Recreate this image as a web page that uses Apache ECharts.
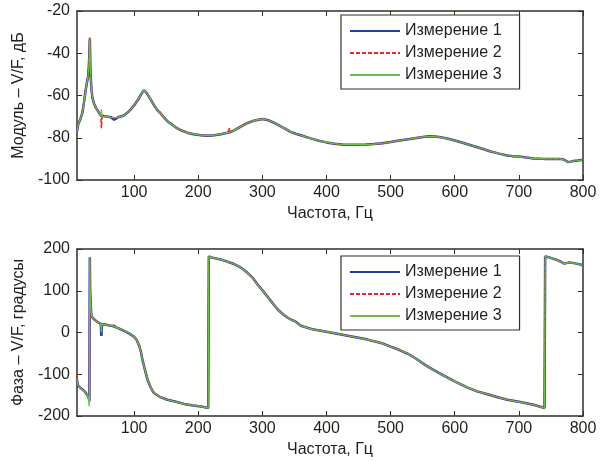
<!DOCTYPE html>
<html><head><meta charset="utf-8">
<script src="https://cdn.jsdelivr.net/npm/echarts@6/dist/echarts.min.js"></script>
<style>html,body{margin:0;padding:0;background:#fff}#c{width:609px;height:461px}</style>
</head><body><div id="c"></div>
<script>
const seriesNames = ['Измерение 1', 'Измерение 2', 'Измерение 3'];
const xTicks = [100, 200, 300, 400, 500, 600, 700, 800];
const magTicks = [-100, -80, -60, -40, -20];
const phTicks = [-200, -100, 0, 100, 200];

const freqMag = [11, 13, 16, 19.5, 22, 24.7, 27, 28.3, 29.5, 30.5, 31, 31.5, 32, 33.5, 35, 37.7, 40, 43, 46, 48, 49, 50, 53, 58.5, 64, 69, 75, 84, 92, 100, 105, 110, 113, 115.6, 118, 120, 125, 131, 136, 141.5, 147, 152, 160, 167.5, 175, 183, 193, 204, 215, 225, 235, 245.7, 249, 250.5, 256, 265, 277, 288, 300, 308, 318, 328, 336, 344, 352, 360, 375, 390, 400, 413, 427, 440, 450, 462, 474, 487, 500, 514, 527, 540, 553, 561, 569, 578, 590, 600, 615, 630, 643, 656, 669, 682, 690, 700, 712, 723, 740, 764, 770, 777, 781, 785, 792, 800];
const mag1 = [-77, -73.5, -71.5, -68, -63, -57, -53, -51, -46, -38, -33, -40, -49, -57, -61, -64, -65.5, -67, -68.5, -69.5, -70, -70, -69.8, -70, -70.3, -71.5, -70.3, -69.5, -67.5, -64.7, -62.5, -60, -58.5, -57.5, -58, -59, -61.5, -64.6, -66.8, -68.5, -70.5, -72.2, -74, -75.6, -76.7, -77.6, -78.3, -78.8, -79, -78.8, -78.3, -77.6, -77.4, -77.3, -76.5, -75, -73, -71.8, -71.1, -71.6, -72.8, -74.5, -75.8, -77.2, -78.1, -78.8, -80.3, -81.5, -82.2, -82.8, -83.3, -83.3, -83.3, -83.2, -83, -82.6, -82, -81.3, -80.7, -80.1, -79.5, -79.3, -79.4, -79.8, -80.5, -81.3, -82.6, -84, -85.2, -86.5, -87.5, -88.4, -88.7, -88.9, -89.4, -89.8, -90, -90, -90.3, -91.5, -91.3, -91, -90.8, -90.4];
const mag2 = [-77.5, -73, -71.5, -68, -63, -57, -53, -51, -46, -38, -32.5, -40, -49, -57, -61, -64, -65.5, -67, -68.5, -69.5, -75.5, -70, -69.8, -70, -70.3, -70.5, -70.3, -69.5, -67.5, -64.7, -62.5, -60, -58.5, -57.5, -58, -59, -61.5, -64.6, -66.8, -68.5, -70.5, -72.2, -74, -75.6, -76.7, -77.6, -78.3, -78.8, -79, -78.8, -78.3, -77.6, -75.5, -77.3, -76.5, -75, -73, -71.8, -71.1, -71.6, -72.8, -74.5, -75.8, -77.2, -78.1, -78.8, -80.3, -81.5, -82.2, -82.8, -83.3, -83.3, -83.5, -83.2, -83, -82.6, -82, -81.3, -80.7, -80.1, -79.5, -79.3, -79.4, -79.8, -80.5, -81.3, -82.6, -84, -85.2, -86.5, -87.5, -88.4, -88.7, -88.9, -89.4, -89.8, -90, -90, -90.3, -91.5, -91.3, -91, -90.8, -90.4];
const mag3 = [-77, -73.5, -71.5, -68, -63, -57, -53, -51, -46, -38, -33, -40, -49, -57, -61, -64, -65.5, -67, -68.5, -69.5, -66.5, -70, -69.8, -70, -70.3, -70.5, -70.3, -69.5, -67.5, -64.7, -62.5, -60, -58.5, -57.5, -58, -59, -61.5, -64.6, -66.8, -68.5, -70.5, -72.2, -74, -75.6, -76.7, -77.6, -78.3, -78.8, -79, -78.8, -78.3, -77.6, -77.4, -77.3, -76.5, -75, -73, -71.8, -71.1, -71.6, -72.8, -74.5, -75.8, -77.2, -78.1, -78.8, -80.3, -81.5, -82.2, -82.8, -83.3, -83.3, -83.3, -83.2, -83, -82.6, -82, -81.3, -80.7, -80.1, -79.5, -79.3, -79.4, -79.8, -80.5, -81.3, -82.6, -84, -85.2, -86.5, -87.5, -88.4, -88.7, -88.9, -89.4, -89.8, -90, -90, -90.3, -91.5, -91.3, -91, -90.8, -90.4];

const freqPh = [11, 11.5, 12.5, 16, 20, 24, 28.3, 30, 30.3, 31, 31.5, 32.5, 33.5, 36, 37.7, 42, 48, 49, 50, 55, 62, 69, 76, 84.4, 92, 100, 104, 108, 110.5, 113, 117, 121, 126, 131, 140, 152, 165, 178, 190, 204, 215.6, 216.5, 220, 235, 256, 266, 277, 285, 292, 300, 308, 316, 324, 332, 339, 346, 352, 360, 380, 400, 427, 464, 485, 500, 514, 527, 540, 553, 566, 580, 600, 620, 635, 651, 667, 682, 700, 723, 740, 741, 745, 753, 762, 771, 779, 790, 800];
const ph1 = [-112, -120, -127, -132, -137, -143, -153, -160, -165, 180, 100, 62, 40, 34, 30, 26, 21, -8, 20, 19, 17, 14, 10, 4, -2, -10, -18, -32, -45, -65, -90, -113, -132, -145, -154, -161, -166, -171, -174, -177, -181, 182, 180, 175, 164, 156, 143, 131, 116, 101, 86, 70, 55, 44, 36, 30, 26, 16, 7, 2, -6, -17, -25, -34, -42, -51, -63, -77, -89, -101, -117, -132, -141, -148, -155, -161, -166, -173, -181, 182, 181, 177, 172, 165, 168, 165, 161];
const ph2 = [-100, -120, -127, -132, -137, -143, -153, -160, -165, 180, 100, 62, 40, 34, 30, 26, 21, 20, 20, 19, 17, 17, 10, 4, -2, -10, -18, -32, -45, -65, -90, -113, -132, -145, -154, -161, -166, -171, -174, -177, -181, 182, 180, 175, 164, 156, 143, 131, 116, 101, 86, 70, 55, 44, 36, 30, 26, 16, 7, 2, -6, -17, -25, -34, -42, -51, -63, -77, -89, -101, -117, -132, -141, -148, -155, -161, -166, -173, -181, 182, 181, 177, 172, 165, 168, 165, 161];
const ph3 = [-112, -120, -127, -132, -137, -143, -153, -177, -165, 180, 100, 62, 40, 34, 30, 26, 21, 0, 20, 19, 17, 14, 10, 4, -2, -10, -18, -32, -45, -65, -90, -113, -132, -145, -154, -161, -166, -171, -174, -177, -181, 182, 180, 175, 164, 156, 143, 131, 116, 101, 86, 70, 55, 44, 36, 30, 26, 16, 7, 2, -6, -17, -25, -34, -42, -51, -63, -77, -89, -101, -117, -132, -141, -148, -155, -161, -166, -173, -181, 182, 181, 177, 172, 165, 168, 165, 161];

const pairs = (xs, ys) => xs.map((x, i) => [x, ys[i]]);
const FONT = 'Liberation Sans';
const FS = 16;
const AX = '#352e26';
const TXT = '#231f1a';
const styles = [
  {color: '#1f3f9e', width: 2.5, type: 'solid'},
  {color: '#e8262a', width: 1.6, type: [4, 2]},
  {color: '#6cbf4a', width: 1.2, type: 'solid'}
];
const sMag = [mag1, mag2, mag3];
const sPh = [ph1, ph2, ph3];

function xAxes(gi) {
  return [{
    type: 'value', gridIndex: gi, min: 11, max: 800,
    name: 'Частота, Гц', nameLocation: 'middle', nameGap: 26,
    nameTextStyle: {fontFamily: FONT, fontSize: FS, color: TXT},
    axisLine: {onZero: false, lineStyle: {color: AX, width: 1.5}},
    axisTick: {inside: true, length: 5, lineStyle: {color: AX}, customValues: xTicks},
    axisLabel: {fontFamily: FONT, fontSize: FS, color: TXT, margin: 5, customValues: xTicks},
    splitLine: {show: false}
  }, {
    type: 'value', gridIndex: gi, min: 11, max: 800, position: 'top',
    axisLine: {onZero: false, lineStyle: {color: AX, width: 1.5}},
    axisTick: {inside: true, length: 5, lineStyle: {color: AX}, customValues: xTicks},
    axisLabel: {show: false, customValues: xTicks},
    splitLine: {show: false}
  }];
}
function yAxes(gi, ticks, name) {
  const mn = ticks[0], mx = ticks[ticks.length - 1];
  return [{
    type: 'value', gridIndex: gi, min: mn, max: mx,
    name: name, nameLocation: 'middle', nameGap: 44,
    nameTextStyle: {fontFamily: FONT, fontSize: FS, color: TXT},
    axisLine: {show: true, onZero: false, lineStyle: {color: AX, width: 1.5}},
    axisTick: {show: true, inside: true, length: 5, lineStyle: {color: AX}, customValues: ticks},
    axisLabel: {fontFamily: FONT, fontSize: FS, color: TXT, margin: 7, customValues: ticks},
    splitLine: {show: false}
  }, {
    type: 'value', gridIndex: gi, min: mn, max: mx, position: 'right',
    axisLine: {show: true, onZero: false, lineStyle: {color: AX, width: 1.5}},
    axisTick: {show: true, inside: true, length: 5, lineStyle: {color: AX}, customValues: ticks},
    axisLabel: {show: false, customValues: ticks},
    splitLine: {show: false}
  }];
}

const series = [];
seriesNames.forEach((n, i) => {
  series.push({
    name: n, type: 'line', xAxisIndex: 0, yAxisIndex: 0, symbol: 'none',
    data: pairs(freqMag, sMag[i]), lineStyle: styles[i], itemStyle: {color: styles[i].color}, z: 2 + i
  });
});
seriesNames.forEach((n, i) => {
  series.push({
    name: n, type: 'line', xAxisIndex: 2, yAxisIndex: 2, symbol: 'none',
    data: pairs(freqPh, sPh[i]), lineStyle: styles[i], itemStyle: {color: styles[i].color}, z: 2 + i
  });
});

function legend(top, gap) {
  return {
    left: 341, top: top, orient: 'vertical',
    itemWidth: 50, itemHeight: 14, itemGap: gap,
    padding: [8, 18, 6, 8],
    backgroundColor: '#fff', borderColor: AX, borderWidth: 1.2,
    itemStyle: {opacity: 0},
    textStyle: {fontFamily: FONT, fontSize: FS, color: TXT},
    data: seriesNames, selectedMode: false
  };
}

const chart = echarts.init(document.getElementById('c'), null, {renderer: 'canvas'});
chart.setOption({
  animation: false,
  backgroundColor: '#fff',
  grid: [
    {left: 77, top: 11, width: 506, height: 169},
    {left: 77, top: 249, width: 506, height: 167}
  ],
  xAxis: [...xAxes(0), ...xAxes(1)],
  yAxis: [...yAxes(0, magTicks, 'Модуль – V/F, дБ'), ...yAxes(1, phTicks, 'Фаза – V/F, градусы')],
  legend: [legend(15, 6), legend(256, 6)],
  series: series
});
</script></body></html>
